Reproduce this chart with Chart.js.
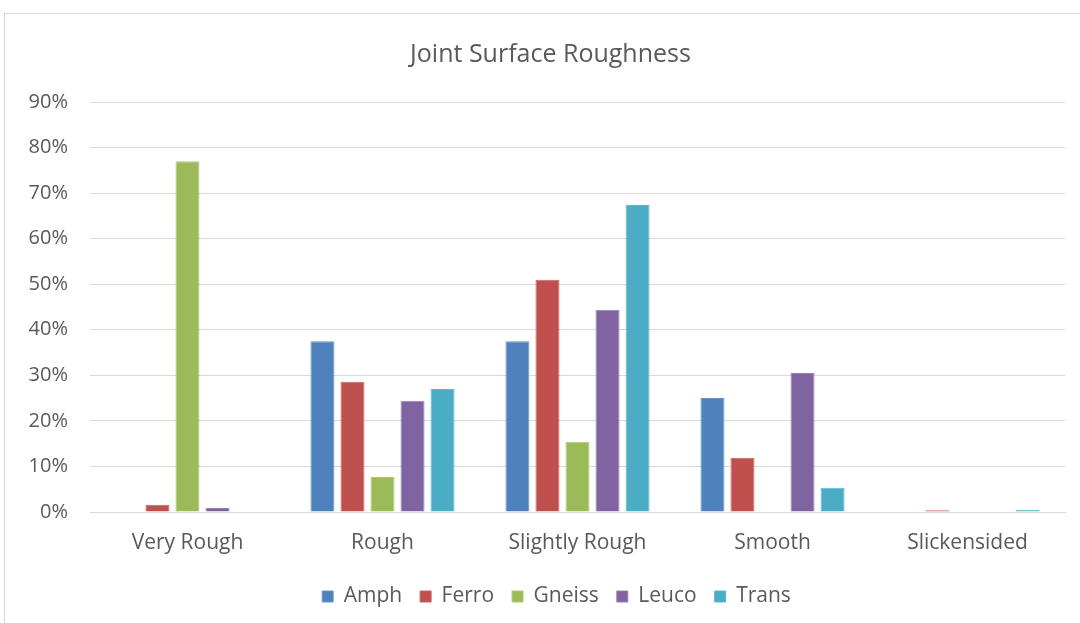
<!DOCTYPE html>
<html>
<head>
<meta charset="utf-8">
<script src="https://cdn.jsdelivr.net/npm/chart.js@4/dist/chart.umd.min.js"></script>
<style>
  html, body { margin: 0; padding: 0; background: #ffffff; }
  #frame {
    position: absolute; left: 4px; top: 13px; width: 1200px; height: 700px;
    border-left: 1px solid #d9d9d9; border-top: 1px solid #d9d9d9;
  }
  #wrap { position: absolute; left: 0; top: 0; width: 1080px; height: 623px; }
</style>
</head>
<body>
<div id="frame"></div>
<div id="wrap"><canvas id="chart" width="1080" height="623"></canvas></div>
<script>
// Share of joints in each roughness class, per rock type (percent)
const categories = ['Very Rough', 'Rough', 'Slightly Rough', 'Smooth', 'Slickensided'];
const amph   = [0,   37.5, 37.5, 25.0, 0];
const ferro  = [1.6, 28.6, 51.0, 11.9, 0.4];
const gneiss = [77.0, 7.7, 15.4, 0,    0];
const leuco  = [0.9, 24.4, 44.4, 30.5, 0];
const trans  = [0,   27.0, 67.4, 5.3,  0.5];
const yTicks = [0, 10, 20, 30, 40, 50, 60, 70, 80, 90];

const FONT = "'Open Sans', 'Liberation Sans', sans-serif";
const TEXT = '#595959';

function series(label, data, fill, edge) {
  return {
    label, data,
    backgroundColor: fill,
    borderColor: edge,
    borderWidth: 1,
    categoryPercentage: 0.77,
    barPercentage: 0.8
  };
}

// Centre the title and legend over the whole chart frame rather than the padded box
const frameCentre = {
  id: 'frameCentre',
  afterUpdate(chart) {
    if (chart.titleBlock) { chart.titleBlock.left = 36; }
    if (chart.legend) {
      chart.legend.left = 48;
      chart.legend.adjustHitBoxes();
    }
  }
};

new Chart(document.getElementById('chart'), {
  type: 'bar',
  data: {
    labels: categories,
    datasets: [
      series('Amph',   amph,   '#4f81bd', '#6b96cc'),
      series('Ferro',  ferro,  '#c0504d', '#c9625f'),
      series('Gneiss', gneiss, '#9bbb59', '#aecb74'),
      series('Leuco',  leuco,  '#8064a2', '#9880b6'),
      series('Trans',  trans,  '#4bacc6', '#5fb6ce')
    ]
  },
  plugins: [frameCentre],
  options: {
    responsive: false,
    animation: false,
    layout: { padding: { left: 0, right: 15, top: 26, bottom: 6 } },
    plugins: {
      title: {
        display: true,
        text: 'Joint Surface Roughness',
        color: TEXT,
        font: { family: FONT, size: 25, weight: 'normal' },
        padding: { top: 14, bottom: 32 }
      },
      legend: {
        position: 'bottom',
        labels: {
          color: TEXT,
          font: { family: FONT, size: 21 },
          boxWidth: 11,
          boxHeight: 11,
          padding: 18
        }
      },
      tooltip: { enabled: false }
    },
    scales: {
      x: {
        afterFit: (s) => { s.height = 56; },
        grid: { display: false, drawTicks: false },
        border: { color: '#d9d9d9', width: 1 },
        ticks: { color: TEXT, font: { family: FONT, size: 21 }, padding: 18, maxRotation: 0 }
      },
      y: {
        min: 0, max: 90,
        afterFit: (s) => { s.width = 90; },
        afterBuildTicks: (s) => { s.ticks = yTicks.map(v => ({ value: v })); },
        grid: { color: '#d9d9d9', lineWidth: 1, drawTicks: false },
        border: { display: false },
        ticks: {
          color: TEXT,
          font: { family: FONT, size: 20 },
          padding: 22,
          callback: (v) => v + '%'
        }
      }
    }
  }
});
</script>
</body>
</html>
